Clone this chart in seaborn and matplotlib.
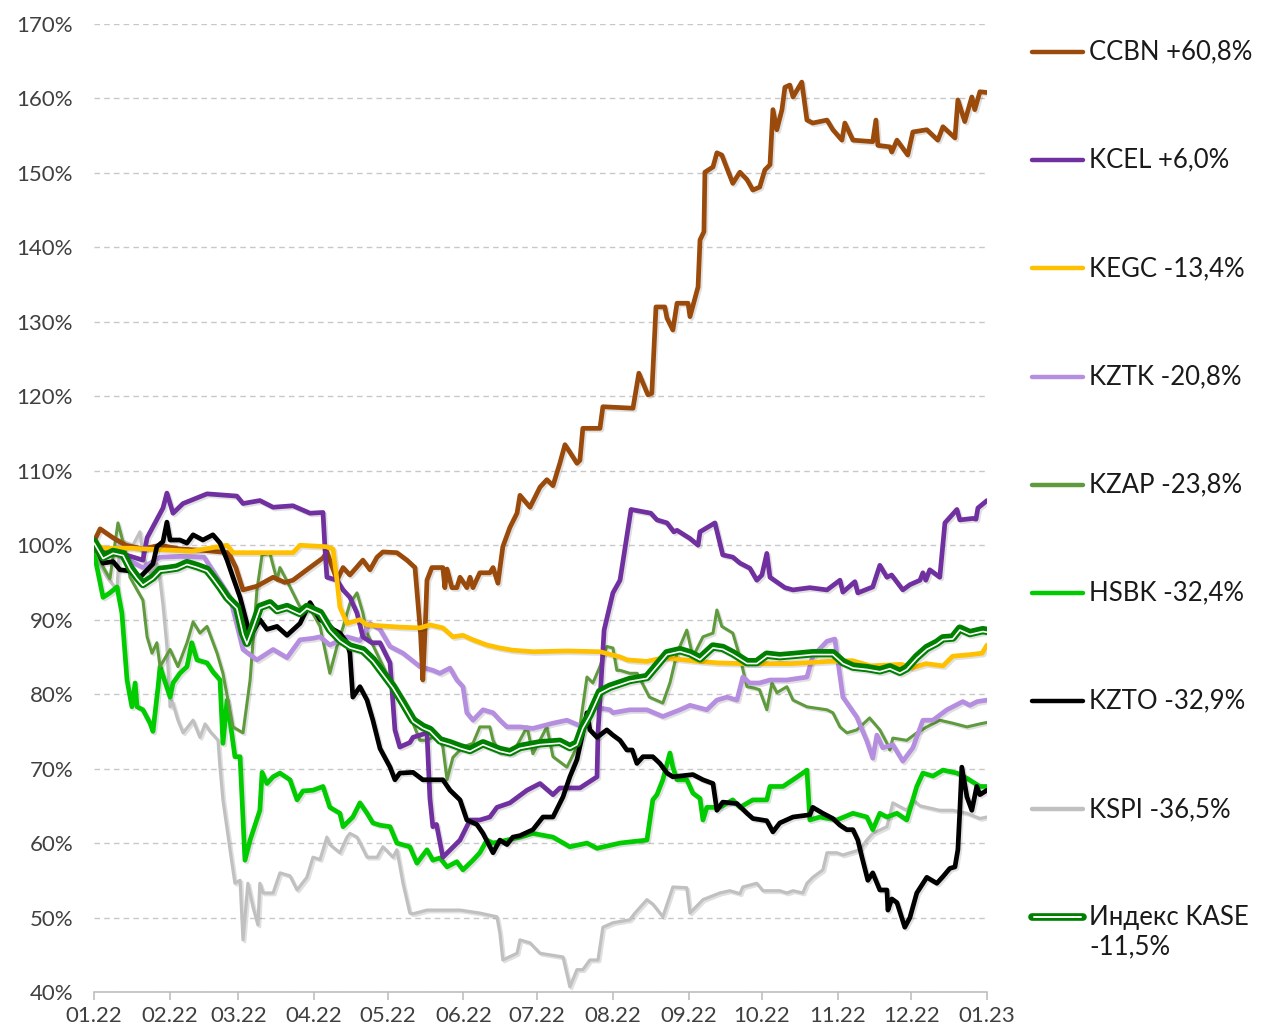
# Динамика акций индекса KASE за 2022 год, % к началу года

import pandas as pd
import seaborn as sns
from matplotlib import pyplot as plt
from matplotlib import patheffects as pe
from matplotlib.lines import Line2D
import matplotlib.dates as mdates

sns.set_theme(style='white')
plt.rcParams['font.family'] = ['Lato', 'DejaVu Sans']

start = pd.Timestamp('2022-01-01')

# days since 01.01.2022 and value in % of the first day
ccbn_days = [0, 2.5, 7.8, 13, 20, 27, 35, 45, 55, 58, 60.9, 66.6, 73.2, 78, 81.3, 87, 93.6, 95.2, 99.3, 101.8,
             104.6, 109.9, 112.8, 115.7, 118.1, 123.8, 127.9, 131.2, 133.5, 134.4, 135.5, 136.1, 138.1, 142.6,
             143.4, 144.3, 146.3, 148.3, 149.6, 152.4, 153.7, 154.9, 157.7, 161.8, 163.1, 165.1, 167.1, 170,
             172.9, 174.1, 178.2, 182.3, 185.1, 187.6, 190.4, 192.5, 194.5, 197.4, 198.6, 199.8, 206.8, 208,
             220.3, 222.7, 226.4, 228, 229.7, 233.3, 234.2, 236.6, 238.3, 242.8, 243.6, 246.9, 247.7, 249.3,
             249.7, 253, 254.6, 256.6, 261.1, 264, 266.9, 269.3, 272.1, 274.2, 276.3, 277.5, 279.1, 281.2,
             282.4, 284.4, 285.7, 289.3, 291.4, 293.8, 299.6, 302, 305.7, 306.9, 310.2, 318.3, 319.6, 320.4,
             325.3, 326.1, 328.2, 332.6, 334.7, 340.4, 344.9, 347, 351.9, 353.1, 355.9, 358.8, 360, 362.1, 365]
ccbn_vals = [100.5, 102.2, 101, 100, 99.5, 100, 99.5, 99.3, 99, 97, 94, 94.5, 95.7, 95, 95.3, 96.7, 98.3, 99.1,
             95.3, 97, 96, 98, 96.7, 98.4, 99.1, 99, 98, 97, 88, 81.9, 90, 95.3, 97, 97, 94.3, 96.8, 94.3, 94.3,
             95.7, 94.3, 95.7, 94.3, 96.3, 96.3, 97, 94.9, 99.8, 102.4, 104.3, 106.7, 105.1, 107.8, 108.8, 108,
             111, 113.5, 112.5, 111, 111.4, 115.7, 115.7, 118.6, 118.4, 123.1, 120.2, 120.4, 132, 132, 130.5,
             128.9, 132.5, 132.5, 130.7, 134.7, 141, 142.1, 150.1, 150.8, 152.7, 152.4, 148.6, 150.1, 149.1,
             147.7, 148.1, 150.4, 151.1, 158.5, 155.8, 158.5, 161.5, 161.8, 160.2, 162.2, 157.1, 156.7, 157.1,
             155.8, 154.4, 156.7, 154.4, 154.2, 157.1, 153.7, 153.5, 152.8, 154.4, 152.4, 155.5, 155.8, 154.4,
             156.2, 154.7, 159.8, 156.9, 160.2, 158.5, 160.9, 160.8]

kcel_days = [0, 3.7, 10, 20, 21.7, 28.2, 29.8, 32.3, 36.4, 46.2, 58.4, 60.9, 67.8, 73.2, 81.3, 88.3, 93.6, 94.5,
             95.2, 99.3, 101.8, 104.6, 107.5, 109.9, 113.6, 116.9, 121, 123, 125, 129.1, 130.4, 133.2, 136.1,
             137.3, 138.5, 140, 142.6, 149.6, 153.7, 157.7, 161.8, 164.7, 170, 177, 182.3, 187.6, 190.4, 198.6,
             205.6, 206, 208.5, 212.1, 215, 219.5, 227.6, 230.1, 234.2, 237, 238.3, 243.6, 246.9, 247.7, 253.8,
             257, 261.1, 264, 268.1, 270.9, 273, 275, 276.3, 282.4, 285.7, 292.6, 299.6, 304.9, 306.1, 311,
             312.2, 318.3, 321.2, 324.1, 326, 330.6, 333.5, 337.6, 338.8, 340, 341.6, 345.7, 347.8, 352.7,
             353.9, 359.2, 360.5, 361.3, 365]
kcel_vals = [99.5, 99.5, 99, 98, 101, 105, 107, 104.3, 105.6, 106.9, 106.6, 105.6, 106, 105.1, 105.3, 104.3,
             104.4, 99, 95.7, 95.3, 94, 93, 90.9, 87.7, 86.9, 86.9, 84.2, 75.2, 72.9, 73.5, 74.2, 74.5, 74.8, 66,
             62.2, 62.5, 58.1, 60.4, 63.1, 63.1, 63.5, 64.8, 65.4, 67.1, 68, 66.5, 67.4, 67.4, 68.9, 74.8, 88.6,
             93.6, 95.3, 104.8, 104.3, 103.4, 103, 101.8, 102, 100.9, 100, 101.8, 103, 98.7, 98.4, 97.6, 96.9,
             95.3, 96, 98.9, 95.7, 94.3, 94, 94.3, 94, 95.3, 93.7, 95.1, 93.6, 94.4, 97.3, 95.7, 96, 94, 94.7,
             95.3, 96.3, 95.3, 96.7, 95.7, 103, 104.8, 103.4, 103.6, 103.5, 105, 106]

kegc_days = [0, 4.5, 15, 27, 40, 54.4, 56.8, 70, 81.3, 84.2, 95, 97.7, 99.3, 100.5, 103.4, 108.7, 111.6, 125,
             133.2, 137.3, 142.6, 146.7, 150.8, 154.9, 160.6, 165.9, 171.2, 179.4, 193.3, 206.8, 215, 218, 226,
             233, 247, 255, 265, 285, 300, 310, 317.5, 330, 334.3, 340, 347, 351, 358, 363, 365]
kegc_vals = [100, 99.6, 99.6, 99.4, 99.2, 100, 99, 99, 99, 100, 99.8, 99.5, 95.3, 91.7, 89.5, 90, 89.3, 89, 88.9,
             89.3, 88.9, 87.7, 87.9, 87.3, 86.6, 86.2, 85.9, 85.7, 85.8, 85.7, 85, 84.6, 84.4, 84.9, 84.4, 84.2,
             84.1, 84.1, 84.4, 84.5, 83.8, 84, 83.5, 84.1, 83.8, 85.1, 85.3, 85.5, 86.6]

kztk_days = [0, 8, 14, 20, 27, 35, 45, 50.3, 55.6, 60.9, 66.6, 73.2, 78.9, 84.2, 89.5, 92.4, 96.4, 103.4, 108.7,
             112.8, 116.9, 121, 126.3, 133.2, 138.5, 141.4, 145.5, 148.3, 150.8, 152.4, 154.9, 159, 163.1, 165.9,
             168.8, 174.1, 179.4, 187.6, 193.3, 199.8, 203.9, 210.9, 212.1, 219, 226, 232.5, 239.5, 243.6, 250.5,
             254.6, 258.7, 262.8, 265.2, 268, 272, 276.3, 283.2, 291.4, 293.8, 299.6, 302.8, 306.1, 311.8, 315.9,
             318.3, 320, 322.4, 326.5, 330.6, 334.7, 338.8, 342.9, 348.6, 355.1, 358, 361, 365]
kztk_vals = [99.5, 99, 98, 97, 98.4, 98.5, 98.4, 95.7, 93, 86, 84.6, 86, 84.9, 87.3, 87.5, 87.7, 86.6, 87.7, 87.2,
             89.5, 88.7, 86.4, 85.5, 83.7, 83.2, 82.8, 83.5, 81.9, 81, 77.5, 76.5, 77.9, 77.5, 76.5, 75.6, 75.6,
             75.4, 76.1, 76.5, 75.6, 78.3, 77.9, 77.5, 77.9, 77.9, 77, 77.9, 78.5, 77.9, 79.2, 79.6, 79.2, 82.3,
             81.5, 81.5, 81.9, 81.9, 82.3, 85.1, 87.1, 87.4, 79.6, 76.9, 73.7, 71.4, 74.5, 72.8, 73.2, 71, 72.8,
             76.5, 76.5, 77.9, 79, 78.5, 79, 79.2]

kzap_days = [0, 3, 6.5, 9.8, 13.5, 14.7, 17.6, 20, 21.7, 23.7, 25.7, 27, 31.1, 34.3, 38, 40.5, 43.3, 46.2, 50.3,
             52.7, 56.8, 60.9, 63.8, 66.6, 68.7, 71.9, 74.8, 76, 80.1, 84.2, 88.3, 92.4, 96.4, 99.3, 101.8, 104.6,
             107.5, 109.9, 111.6, 116.9, 122.2, 126.3, 130.4, 133.2, 136.1, 140.2, 142.6, 144.3, 146.7, 150.8,
             154.9, 157.7, 161.8, 163.1, 165.9, 171.2, 177, 179.4, 185.1, 187.6, 193.3, 197.4, 201.5, 203.9,
             206.8, 209.6, 212.1, 213.7, 215, 219, 222, 227, 232.5, 235.4, 238.3, 242.3, 244.8, 248.9, 253,
             254.6, 256.6, 261.1, 264, 266.9, 270, 272, 275, 277.1, 279.1, 283.2, 285.7, 291.4, 299.6, 302,
             304.9, 307.7, 311.8, 317, 321.2, 324.1, 325.3, 326.5, 332.2, 336.3, 340.4, 345.7, 351, 356.8, 362,
             365]
kzap_vals = [100, 97.5, 95.5, 103, 98.4, 95.7, 94, 92.6, 87.7, 85.5, 86.9, 83.7, 86, 83.7, 86.9, 89.7, 88.2,
             89.1, 85.5, 82.8, 75.6, 74.8, 81.9, 94, 98.7, 98.9, 95.3, 97, 94.4, 91.7, 91.5, 89.1, 82.8, 86.4, 89,
             92.2, 93.6, 90.9, 88.2, 84.6, 81, 78.3, 76.1, 73.8, 73.8, 74.5, 72.9, 68.5, 71.5, 72.9, 73.4, 75.6,
             75.6, 73.8, 72.1, 72.1, 75.6, 72, 75.6, 71.6, 70.2, 72.9, 82.3, 81.5, 83.7, 86.4, 86.2, 83.2, 83.2,
             82.8, 82.8, 79.6, 78.8, 81.5, 85.5, 88.6, 85, 87.7, 88.2, 91.3, 89.1, 88.2, 85, 81, 80.8, 80.6, 77.9,
             81.5, 80.2, 81, 79.2, 78.3, 77.9, 77.5, 75.6, 74.8, 75.2, 76.8, 75.2, 73.4, 72.5, 74.1, 73.8, 74.8,
             75.6, 76.5, 76.1, 75.6, 76, 76.2]

hsbk_days = [0, 3.7, 6.5, 9.4, 11.4, 13.5, 15.5, 16.8, 17.6, 20, 22.9, 24.1, 26.2, 27, 31.1, 32.3, 35.1, 38, 40,
             42.1, 46.2, 48.6, 51.5, 52.7, 54.4, 56.4, 57.6, 59.7, 61.7, 63.8, 67.8, 68.7, 70.7, 73.2, 76, 80.1,
             83, 85.4, 89.5, 93.6, 96.4, 100.5, 101.8, 105.8, 108.7, 111.6, 114, 116.9, 121, 123.8, 129.1, 132,
             136.1, 138.5, 141.4, 144.3, 148.3, 150.8, 154.9, 157.7, 160.6, 163.1, 168.8, 174.1, 179.4, 187.6,
             194.5, 201.5, 205.6, 215, 220.3, 226, 228.4, 230.1, 232.5, 235.4, 236.6, 238.3, 242.3, 244.8, 247.7,
             248.9, 250.5, 255.8, 261.1, 264, 269.3, 275, 276.3, 281.6, 285.7, 289.7, 291.4, 292.6, 296.7, 303.6,
             310.2, 315.9, 318.3, 321.2, 324.1, 328.2, 332.2, 336.3, 338.8, 342.9, 347, 352.7, 356.8, 362.1, 365]
hsbk_vals = [99, 93, 93.6, 94.4, 90.9, 81.9, 78.3, 81.5, 78.3, 77.9, 76.1, 75, 81, 83.7, 79.6, 81.5, 82.8, 83.7,
             86.9, 84.6, 84.2, 83, 81.9, 73.4, 79.2, 74.5, 71.6, 71.6, 57.7, 60.4, 64.4, 69.5, 68, 68.9, 69.4,
             68.5, 65.8, 67, 67.1, 67.6, 64.8, 64, 62.2, 63.5, 65.4, 64, 62.7, 62.4, 62.2, 60, 59.5, 57.3, 59.1,
             57.7, 58, 56.8, 57.5, 56.4, 57.7, 58.7, 60.4, 60, 60.4, 60.8, 61.3, 60.8, 59.5, 60, 59.3, 60, 60.2,
             60.4, 65.8, 66.5, 68.5, 72.1, 70.2, 68.5, 68.5, 66.7, 66, 63.1, 64.8, 64.8, 65.8, 64.8, 65.8, 65.8,
             67.6, 67.6, 68.5, 69.4, 69.8, 63.1, 63.5, 63.1, 64, 63.5, 61.8, 64, 63.5, 64, 63.1, 67.6, 69.4, 69,
             69.8, 69.4, 68.7, 67.6, 67.6]

kzto_days = [0, 3.7, 7.8, 10.6, 15.9, 18.8, 24.1, 25.7, 28.2, 29.8, 31.1, 35.1, 38, 40.5, 44.5, 48.6, 51.5, 54.4,
             56.8, 59.7, 62.5, 63.8, 67.8, 70.7, 74.8, 78.9, 84.2, 88.3, 92.4, 95.2, 97.7, 100.5, 103.4, 104.6,
             105.8, 108.7, 111.6, 114, 116.9, 121, 123, 125, 130.4, 134.4, 142.6, 145.5, 149.6, 152.4, 156.5,
             159, 163.1, 165.9, 168.8, 171.2, 174.1, 179.4, 183.5, 187.6, 191.7, 194.5, 197.4, 199.8, 201.5,
             202.7, 205.6, 208, 209.6, 212.1, 215, 217.8, 220, 221.9, 224.4, 228.4, 231.3, 234.2, 236.6, 244.8,
             248.9, 253, 254.6, 257, 262.8, 266.9, 269.3, 275, 277.5, 280.3, 285.7, 292.6, 293.8, 297.9, 302,
             304.9, 307.7, 310.2, 312.2, 313.9, 316.3, 318.3, 321.2, 324.1, 324.5, 326.1, 328.2, 331.4, 333.5,
             336.3, 340.4, 344.5, 347, 349.8, 351.9, 353.1, 353.9, 354.7, 356.8, 358.8, 360.8, 362.1, 365]
kzto_vals = [100.5, 97.6, 97.8, 96.7, 96.5, 95.7, 97.5, 99.8, 100.5, 103.1, 100.7, 100.7, 100.3, 101.4, 100.7,
             101.4, 100.3, 98, 95.7, 93, 89.5, 87.7, 90, 88.7, 89.1, 87.9, 89.5, 92.3, 90, 89.5, 88.7, 88.2,
             86.9, 85.5, 79.6, 81, 79.2, 76.5, 72.7, 70.2, 68.5, 69.4, 69.5, 68.5, 68.5, 67.1, 65.8, 63.1, 62.5,
             61.3, 58.7, 60.4, 59.8, 60.8, 61, 61.8, 63.5, 63.5, 66.2, 68.9, 71.2, 74.8, 77.5, 75.2, 74.2, 74.8,
             75.2, 74.5, 73.8, 72.5, 72.5, 70.7, 71.6, 71.6, 70.7, 69.4, 68.9, 69.2, 68.5, 68, 64.4, 65.5, 65.3,
             64, 63.3, 63, 61.5, 62.7, 63.5, 63.8, 64.8, 64, 63.3, 62.4, 61.8, 61.8, 60.4, 58.1, 55, 56, 53.7,
             53.7, 51, 52.5, 52, 48.7, 50, 53.3, 55.4, 54.6, 55.5, 56.6, 56.8, 59.1, 64.4, 70.2, 66.2, 64.4,
             67.6, 66.5, 67.1]

kspi_days = [0, 5.3, 9.4, 10.6, 15.9, 18.8, 20, 22.9, 25.7, 27, 28.2, 29.8, 31.1, 32, 34.3, 36.4, 40.5, 43.3,
             45.4, 47.4, 50.7, 51.5, 52.7, 55.6, 57.6, 59.7, 60.9, 62.9, 65, 67, 67.8, 69.1, 73.2, 76, 80.1, 83,
             87, 89.5, 92.4, 95.2, 96.4, 100.5, 103.4, 104.6, 107.5, 111.6, 115.7, 118.1, 122.2, 123.8, 126.3,
             129.1, 130.4, 136.1, 142.6, 149.6, 157.7, 164.7, 165.9, 167.1, 172.9, 174.1, 178.2, 182.3, 191.7,
             194.5, 197.4, 199.8, 202.7, 206, 208, 212.1, 219, 221.1, 226, 228.4, 232.5, 236.6, 242.3, 243.6,
             248.9, 255.8, 259.9, 264, 265.2, 270.9, 273.4, 280.3, 283.2, 285.7, 289.7, 291.4, 293.8, 297.9,
             299.6, 303.6, 306.1, 313, 315.9, 318.3, 324.1, 326.5, 332.2, 334.7, 337.6, 345.7, 351, 356.8, 362.1,
             365]
kspi_vals = [99, 95.7, 94, 100.7, 100, 101.8, 98.4, 96.3, 97.5, 95.3, 92, 86.4, 78.3, 79, 76.5, 74.8, 76.5,
             74.2, 76, 75, 73.8, 70.2, 65.8, 59.1, 54.6, 55, 47, 54.6, 51.4, 49, 54.6, 53.3, 53.3, 56, 55.6, 53.7,
             55.4, 58.1, 57.8, 60.8, 59.8, 58.7, 60.8, 61.3, 60.8, 58.1, 58.1, 59.5, 58.1, 59.1, 54.6, 50.6, 50.5,
             51, 51, 51, 50.6, 50.1, 47.9, 44.3, 45.2, 47, 46.6, 45.2, 44.7, 40.7, 43, 43, 44.3, 44.3, 48.7, 49.3,
             49.7, 50.6, 52.4, 51.8, 50.1, 54.1, 54, 50.6, 52.4, 53.3, 53.6, 53.2, 54.1, 54.6, 53.6, 53.6, 53.3,
             53.6, 53.3, 54.6, 55.4, 56.4, 58.7, 58.7, 58.4, 59.1, 60.4, 61.3, 62.2, 65.4, 64.4, 65.8, 65, 64.4,
             64.4, 64, 63.3, 63.5]

kase_days = [0, 3.7, 7.8, 11.9, 14.7, 17.6, 20, 24.1, 27, 29.8, 33.9, 38, 42.1, 46.2, 48.6, 51.5, 54.4, 58.4,
             60.9, 62.5, 65, 67.8, 71.9, 74.8, 78.9, 84.2, 87, 92.4, 96.4, 100.5, 104.6, 109.9, 114, 118.1, 122.2,
             126.3, 130.4, 134.4, 137.3, 141.4, 145.5, 149.6, 153.7, 159, 165.9, 170, 174.1, 182.3, 190.4, 194.5,
             197.4, 199.8, 202.7, 206.8, 210.9, 219, 226, 230.1, 234.2, 239.5, 243.6, 247.7, 253, 257, 261.1,
             266.9, 270.9, 275, 280.3, 287.3, 293.8, 302, 306.1, 310.2, 315.9, 321.2, 325.3, 329.4, 332.2, 336.3,
             340.4, 344.5, 347, 351, 353.9, 358, 363.3, 365]
kase_vals = [100.5, 98.4, 99.1, 98.8, 97, 95.7, 94.8, 95.7, 96.7, 96.8, 97, 97.6, 97.2, 96.7, 95.7, 94.4, 93,
             91.7, 88.2, 86.9, 89.1, 91.7, 92.2, 91.3, 91.7, 90.9, 91.7, 90.9, 88.7, 87.3, 86.4, 85.9, 84.6, 82.8,
             81, 78.8, 76.5, 75.6, 75.2, 73.8, 73.4, 72.9, 72.5, 73.4, 72.5, 72.2, 72.9, 73.4, 73.6, 72.9, 73.4,
             75.6, 77.3, 80.3, 81, 81.9, 82.3, 83.9, 85.5, 85.9, 85.5, 84.8, 86.4, 86.2, 85.5, 84.3, 84.3, 85.3,
             85.1, 85.3, 85.5, 85.5, 84.3, 83.7, 83.5, 83.2, 83.6, 83, 83.5, 85, 86.2, 86.9, 87.5, 87.6, 88.8,
             88.2, 88.6, 88.5]

tickers = ['CCBN', 'KCEL', 'KEGC', 'KZTK', 'KZAP', 'HSBK', 'KZTO', 'KSPI']
labels = ['CCBN +60,8%', 'KCEL +6,0%', 'KEGC -13,4%', 'KZTK -20,8%', 'KZAP -23,8%',
          'HSBK -32,4%', 'KZTO -32,9%', 'KSPI -36,5%']
kase_label = 'Индекс KASE\n-11,5%'
colors = ['#9A4A0A', '#7030A0', '#FFC000', '#B58EE0', '#5F9B3D', '#00CC00', '#000000', '#C0C0C0']
widths = [3.4, 3.4, 3.4, 3.4, 2.2, 3.4, 3.4, 2.3]
kase_color = '#008000'

series = {
    'CCBN': (ccbn_days, ccbn_vals), 'KCEL': (kcel_days, kcel_vals), 'KEGC': (kegc_days, kegc_vals),
    'KZTK': (kztk_days, kztk_vals), 'KZAP': (kzap_days, kzap_vals), 'HSBK': (hsbk_days, hsbk_vals),
    'KZTO': (kzto_days, kzto_vals), 'KSPI': (kspi_days, kspi_vals),
}


def to_frame(days, vals):
    return pd.DataFrame({'date': start + pd.to_timedelta(days, unit='D'), 'value': vals})


fig = plt.figure(figsize=(12.65, 10.33), dpi=100)
ax = fig.add_axes([94 / 1265, 1 - 992 / 1033, 893 / 1265, 968 / 1033])

shadow = [pe.SimpleLineShadow(offset=(1.3, -1.3), shadow_color='black', alpha=0.12), pe.Normal()]

# drawing order, bottom to top
order = ['KSPI', 'HSBK', 'KZAP', 'KZTK', 'CCBN', 'KCEL', 'KEGC', 'KZTO']
for t in order:
    i = tickers.index(t)
    sns.lineplot(data=to_frame(*series[t]), x='date', y='value', color=colors[i], lw=widths[i],
                 estimator=None, sort=False, ax=ax, path_effects=shadow)

# index: double green line (thick on top, thin below)
kase = to_frame(kase_days, kase_vals)
sns.lineplot(data=kase, x='date', y='value', color=kase_color, lw=6.0,
             estimator=None, sort=False, ax=ax, path_effects=shadow)
sns.lineplot(data=kase, x='date', y='value', color='white', lw=1.2,
             estimator=None, sort=False, ax=ax, path_effects=[pe.Stroke(offset=(0, -1.0))])

ax.set_xlim(start, pd.Timestamp('2023-01-01'))
ax.set_ylim(40, 170)
ax.set_yticks(range(40, 171, 10))
ax.set_yticklabels([f'{v}%' for v in range(40, 171, 10)])
ax.xaxis.set_major_locator(mdates.MonthLocator())
ax.xaxis.set_major_formatter(mdates.DateFormatter('%m.%y'))
ax.set_xlabel('')
ax.set_ylabel('')

ax.yaxis.grid(True, ls=(0, (4, 3)), color='#C8C8C8', lw=1)
ax.xaxis.grid(False)
for s in ['left', 'top', 'right']:
    ax.spines[s].set_visible(False)
ax.spines['bottom'].set_color('#BFBFBF')
ax.spines['bottom'].set_linewidth(1.2)
ax.tick_params(axis='x', direction='out', length=6, width=1.2, color='#BFBFBF',
               labelsize=16, labelcolor='#404040', pad=4, bottom=True)
ax.tick_params(axis='y', length=0, labelsize=16, labelcolor='#404040', pad=15)

# legend on the right
for i, lab in enumerate(labels):
    yf = 1 - (52 + i * 108.2) / 1033
    fig.add_artist(Line2D([1032 / 1265, 1083 / 1265], [yf, yf], transform=fig.transFigure,
                          color=colors[i], lw=3.2, solid_capstyle='round'))
    fig.text(1089 / 1265, yf, lab, fontsize=18.5, color='#1A1A1A', va='center', ha='left')

yf = 1 - 917 / 1033
fig.add_artist(Line2D([1032 / 1265, 1083 / 1265], [yf, yf], transform=fig.transFigure,
                      color=kase_color, lw=5.5, solid_capstyle='round'))
fig.add_artist(Line2D([1034 / 1265, 1081 / 1265], [yf, yf], transform=fig.transFigure,
                      color='white', lw=1.4, solid_capstyle='round'))
fig.text(1089 / 1265, 1 - 932 / 1033, kase_label, fontsize=18.5, color='#1A1A1A', va='center', ha='left',
         linespacing=1.2)

fig.savefig('out.png', dpi=100)
